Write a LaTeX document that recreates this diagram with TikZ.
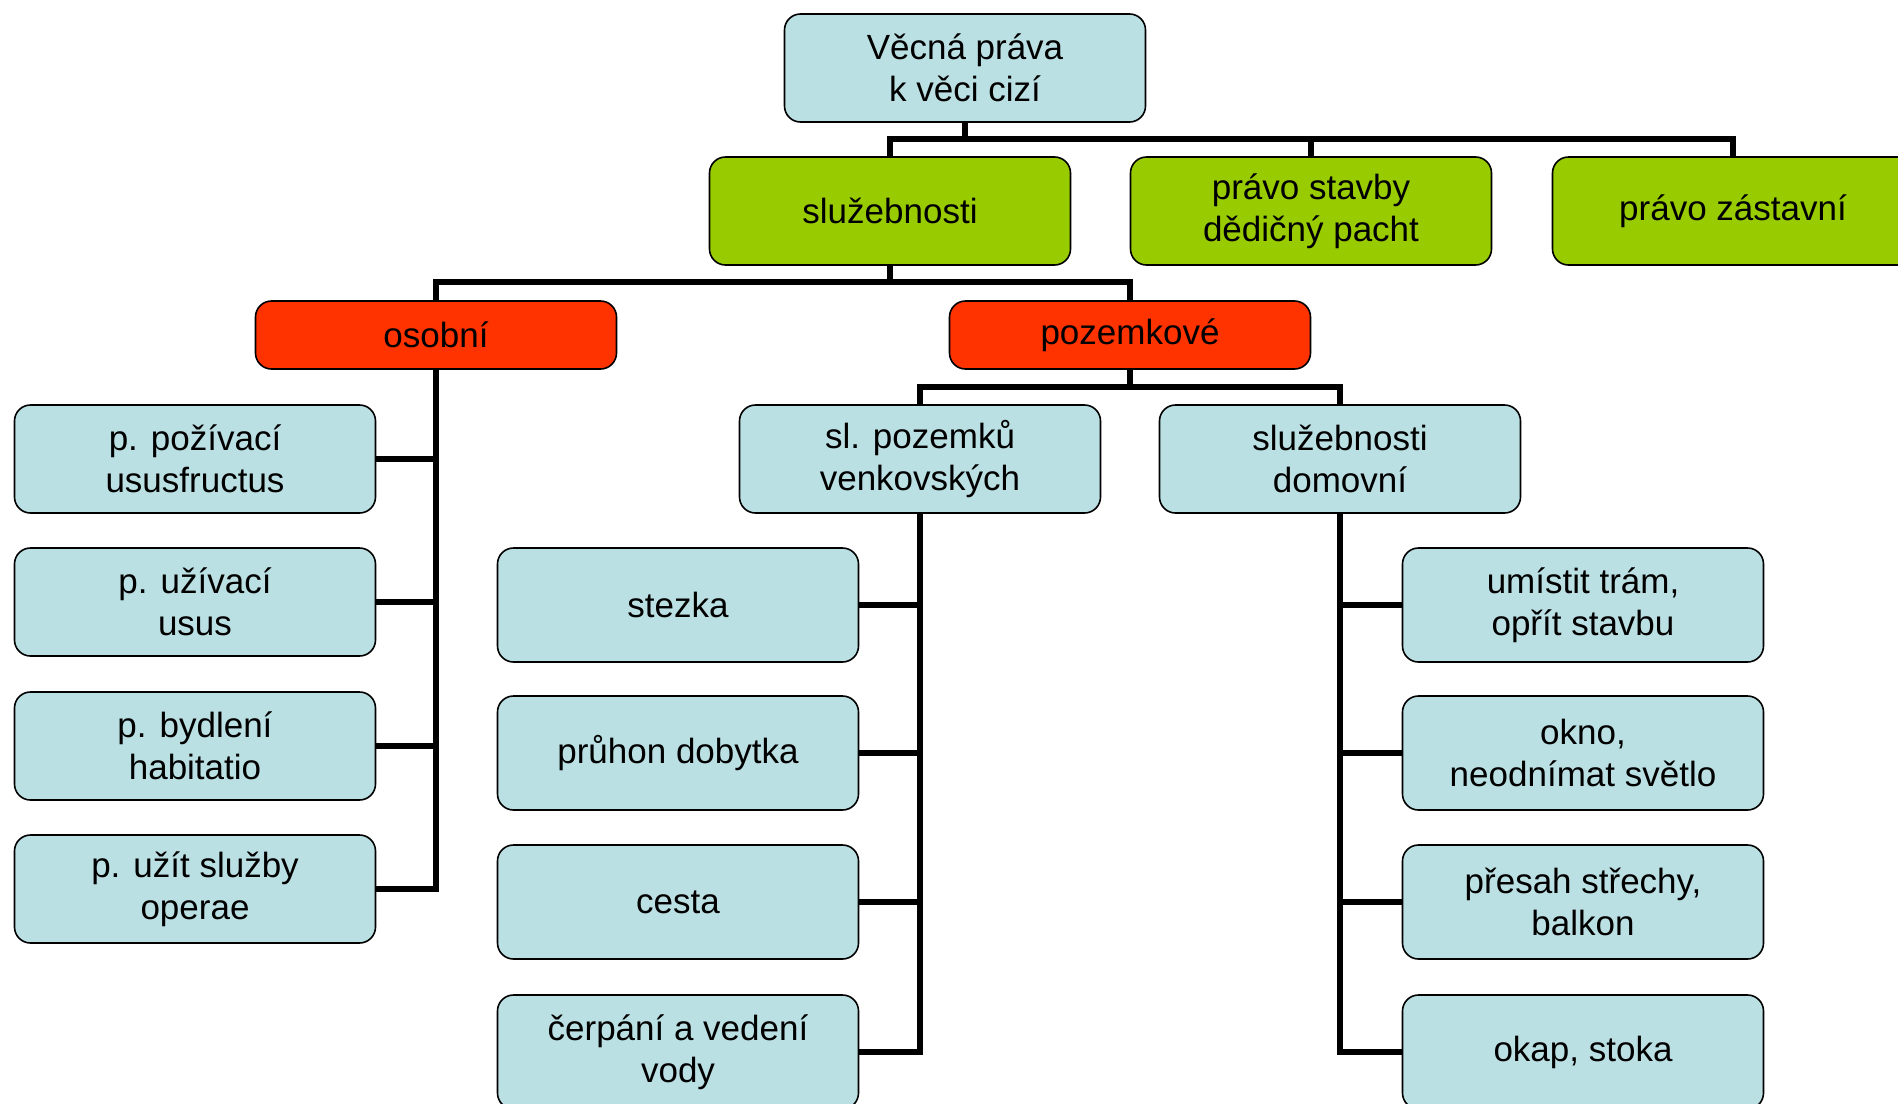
\documentclass[tikz,border=0pt]{standalone}
\usepackage{fontspec}
\setmainfont{Liberation Sans}
\usepackage{xcolor}
\usepackage{tikz}

\definecolor{boxblue}{RGB}{187,224,227}
\definecolor{boxgreen}{RGB}{153,204,0}
\definecolor{boxred}{RGB}{255,51,0}

\begin{document}
\begin{tikzpicture}[
        x=1pt, y=-1pt,
        every node/.style={rounded corners=16pt, draw=black, line width=1.6pt,
            align=center, inner sep=0pt, minimum width=361pt,
            font=\fontsize{35}{42}\selectfont},
        bluebox/.style={fill=boxblue, minimum height=108pt},
        leafbox/.style={fill=boxblue, minimum height=114pt},
        greenbox/.style={fill=boxgreen, minimum height=108pt},
        redbox/.style={fill=boxred, minimum height=68pt},
        link/.style={line width=6.5pt}
    ]
    \clip (0,0) rectangle (1898,1103);
    \useasboundingbox (0,0) rectangle (1898,1103);

    % Root
    \node[bluebox] (root) at (965,68) {Věcná práva\\k věci cizí};

    % Second level
    \node[greenbox] (sluz) at (890,211) {služebnosti};
    \node[greenbox] (stavba) at (1311,211) {právo stavby\\dědičný pacht};
    \node[greenbox] (zast) at (1733,211) {právo zástavní};

    % Kinds of servitudes
    \node[redbox] (osob) at (436,335) {osobní};
    \node[redbox] (pozem) at (1130,335) {pozemkové};

    % Personal servitudes
    \node[bluebox] (p1) at (195,459) {p. požívací\\ususfructus};
    \node[bluebox] (p2) at (195,602) {p. užívací\\usus};
    \node[bluebox] (p3) at (195,746) {p. bydlení\\habitatio};
    \node[bluebox] (p4) at (195,889) {p. užít služby\\operae};

    % Praedial servitudes
    \node[bluebox] (venk) at (920,459) {sl. pozemků\\venkovských};
    \node[bluebox] (domov) at (1340,459) {služebnosti\\domovní};

    \node[leafbox] (v1) at (678,605) {stezka};
    \node[leafbox] (v2) at (678,753) {průhon dobytka};
    \node[leafbox] (v3) at (678,902) {cesta};
    \node[leafbox] (v4) at (678,1052) {čerpání a vedení\\vody};

    \node[leafbox] (d1) at (1583,605) {umístit trám,\\opřít stavbu};
    \node[leafbox] (d2) at (1583,753) {okno,\\neodnímat světlo};
    \node[leafbox] (d3) at (1583,902) {přesah střechy,\\balkon};
    \node[leafbox] (d4) at (1583,1052) {okap, stoka};

    % Bus lines
    \coordinate (bus1) at (965,139);
    \coordinate (bus2) at (890,282);
    \coordinate (bus3) at (1130,387);

    \draw[link] (root.south) -- (root.south |- bus1);
    \draw[link] (sluz.north) -- (sluz.north |- bus1) -- (zast.north |- bus1) -- (zast.north);
    \draw[link] (stavba.north) -- (stavba.north |- bus1);

    \draw[link] (sluz.south) -- (sluz.south |- bus2);
    \draw[link] (osob.north) -- (osob.north |- bus2) -- (pozem.north |- bus2) -- (pozem.north);

    \draw[link] (pozem.south) -- (pozem.south |- bus3);
    \draw[link] (venk.north) -- (venk.north |- bus3) -- (domov.north |- bus3) -- (domov.north);

    % Spines with branches
    \draw[link] (osob.south) |- (p4.east);
    \foreach \n in {p1,p2,p3}
        \draw[link] (\n.east) -- (\n.east -| osob.south);

    \draw[link] (venk.south) |- (v4.east);
    \foreach \n in {v1,v2,v3}
        \draw[link] (\n.east) -- (\n.east -| venk.south);

    \draw[link] (domov.south) |- (d4.west);
    \foreach \n in {d1,d2,d3}
        \draw[link] (\n.west) -- (\n.west -| domov.south);

\end{tikzpicture}
\end{document}
